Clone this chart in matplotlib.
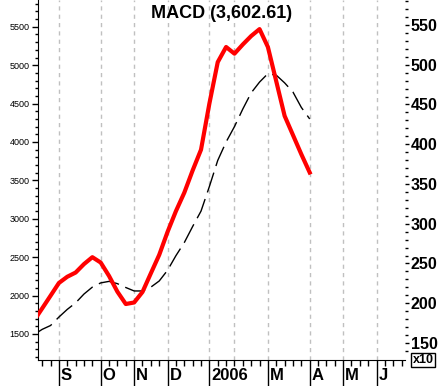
import matplotlib
matplotlib.use('Agg')
import matplotlib.pyplot as plt
import matplotlib.transforms as mtransforms
import numpy as np

plt.rcParams['font.family'] = ['Liberation Sans', 'DejaVu Sans']

# weekly bars, index 0 = last week of August 2005
macd = [1670, 1833, 1998, 2164, 2245, 2300, 2410, 2500, 2430, 2255,
        2050, 1890, 1910, 2047, 2290, 2530, 2830, 3100, 3340, 3630,
        3900, 4500, 5040, 5237, 5150, 5270, 5380, 5470, 5237, 4790,
        4340, 4090, 3840, 3602.61]
signal = [1490, 1560, 1610, 1720, 1820, 1905, 2020, 2110, 2165, 2185,
          2155, 2105, 2060, 2060, 2110, 2190, 2330, 2520, 2690, 2900,
          3100, 3420, 3760, 4000, 4200, 4430, 4640, 4780, 4890, 4870,
          4770, 4650, 4450, 4300]

month_pos = [3, 8, 12, 16, 21, 28, 33, 37, 41]
month_labels = ['S', 'O', 'N', 'D', '2006', 'M', 'A', 'M', 'J']
grid_pos = [3, 8, 12, 16, 21, 24, 28, 33, 37, 41]

left_ticks = list(range(1500, 5501, 500))
right_ticks = list(range(150, 551, 50))

W, H = 446, 386
fig = plt.figure(figsize=(W / 100, H / 100), dpi=100)
ax = fig.add_axes([38 / W, 26 / H, (405 - 38) / W, 360 / H])

for g in grid_pos:
    ax.axvline(g, color='#c0c0c0', lw=1, dashes=(3, 3), zorder=0)

x = np.arange(len(macd))
ax.plot(x, signal, color='black', lw=1, dashes=(15, 5), zorder=2)
ax.plot(x, macd, color='#ff0000', lw=3, zorder=3)

ax.set_xlim(0.5, 44.4)
ax.set_ylim(1161, 5849)

ax.set_xticks(month_pos)
ax.set_xticklabels([])
ax.set_xticks([i for i in range(1, 45) if i not in month_pos], minor=True)
ax.tick_params(axis='x', which='major', direction='out', length=19, width=1)
ax.tick_params(axis='x', which='minor', direction='out', length=4, width=1)

trans = mtransforms.blended_transform_factory(ax.transData, ax.transAxes)
for p, lab in zip(month_pos, month_labels):
    t = ax.text(p, -0.044, lab, transform=trans, ha='left', va='center',
                fontsize=12, fontweight='bold')
    t.set_transform(trans + mtransforms.ScaledTranslation(2 / 100, 0, fig.dpi_scale_trans))

ax.set_yticks(left_ticks)
ax.set_yticklabels([str(v) for v in left_ticks], fontsize=6.5)
ax.set_yticks(range(1200, 5849, 100), minor=True)
ax.tick_params(axis='y', which='major', direction='out', length=4, width=1, pad=2)
ax.tick_params(axis='y', which='minor', direction='out', length=2.5, width=1)

for s in ['top', 'right']:
    ax.spines[s].set_visible(False)

ax2 = ax.twinx()
ax2.set_ylim(128.6, 581.4)
ax2.set_yticks(right_ticks)
ax2.set_yticklabels([str(v) for v in right_ticks], fontsize=11.5, fontweight='bold')
ax2.set_yticks(range(140, 581, 10), minor=True)
ax2.tick_params(axis='y', which='major', direction='out', length=3, width=1, pad=1)
ax2.tick_params(axis='y', which='minor', direction='out', length=2.5, width=1)
for s in ['top', 'right', 'left', 'bottom']:
    ax2.spines[s].set_visible(False)

fig.text(222 / W, 1 - 14 / H, 'MACD (3,602.61)', ha='center', va='center',
         fontsize=13, fontweight='bold')
fig.text(423 / W, 1 - 360 / H, 'x10', ha='center', va='center', fontsize=9,
         fontweight='bold',
         bbox=dict(boxstyle='square,pad=0.1', fc='white', ec='black', lw=1))

fig.savefig('out.png', dpi=100)
